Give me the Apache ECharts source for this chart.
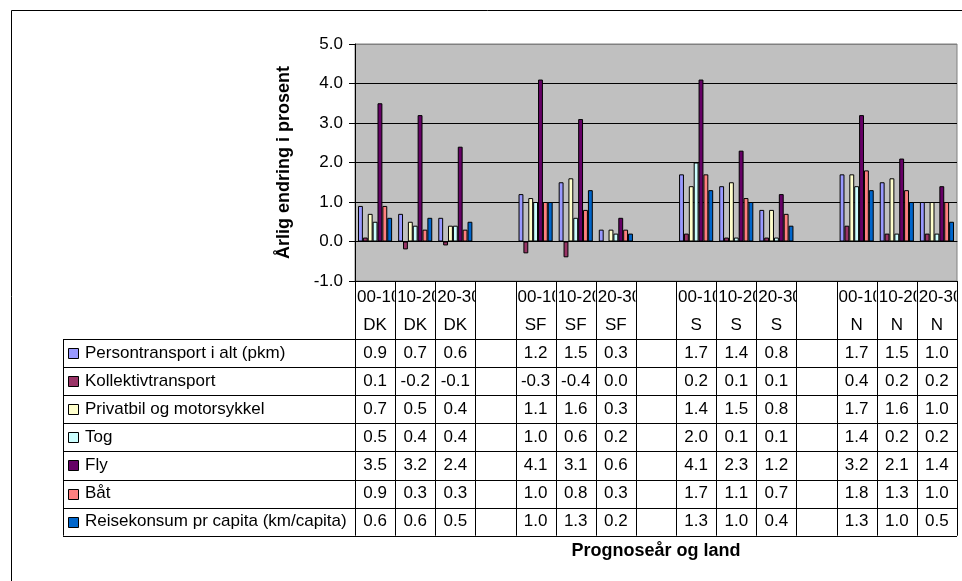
<!DOCTYPE html>
<html>
<head>
<meta charset="utf-8">
<title>Årlig endring i prosent</title>
<script src="https://cdn.jsdelivr.net/npm/echarts@6/dist/echarts.min.js"></script>
<style>
  html, body { margin: 0; padding: 0; background: #fff; }
  #chart { width: 962px; height: 581px; }
</style>
</head>
<body>
<div id="chart"></div>
<script>
// Forecast periods and countries (DK, SF, S, N)
const periods = ['00-10', '10-20', '20-30'];
const countries = ['DK', 'SF', 'S', 'N'];

// Annual change in percent, ordered DK(00-10,10-20,20-30), SF(...), S(...), N(...)
const persontransport = [0.9, 0.7, 0.6, 1.2, 1.5, 0.3, 1.7, 1.4, 0.8, 1.7, 1.5, 1.0];
const kollektivtransport = [0.1, -0.2, -0.1, -0.3, -0.4, 0.0, 0.2, 0.1, 0.1, 0.4, 0.2, 0.2];
const privatbil = [0.7, 0.5, 0.4, 1.1, 1.6, 0.3, 1.4, 1.5, 0.8, 1.7, 1.6, 1.0];
const tog = [0.5, 0.4, 0.4, 1.0, 0.6, 0.2, 2.0, 0.1, 0.1, 1.4, 0.2, 0.2];
const fly = [3.5, 3.2, 2.4, 4.1, 3.1, 0.6, 4.1, 2.3, 1.2, 3.2, 2.1, 1.4];
const baat = [0.9, 0.3, 0.3, 1.0, 0.8, 0.3, 1.7, 1.1, 0.7, 1.8, 1.3, 1.0];
const reisekonsum = [0.6, 0.6, 0.5, 1.0, 1.3, 0.2, 1.3, 1.0, 0.4, 1.3, 1.0, 0.5];

const seriesNames = [
  'Persontransport i alt (pkm)',
  'Kollektivtransport',
  'Privatbil og motorsykkel',
  'Tog',
  'Fly',
  'Båt',
  'Reisekonsum pr capita (km/capita)'
];
const seriesValues = [persontransport, kollektivtransport, privatbil, tog, fly, baat, reisekonsum];
const seriesColors = ['#9999FF', '#993366', '#FFFFCC', '#CCFFFF', '#660066', '#FF8080', '#0066CC'];

const yTicks = [-1, 0, 1, 2, 3, 4, 5];

const FONT = "'Liberation Sans', Arial, sans-serif";
const FS = 17;

// Build the category list: three periods per country, an empty column between countries
const cats = [];      // {period, country} or null for spacer
countries.forEach((c, ci) => {
  periods.forEach(p => cats.push({ period: p, country: c }));
  if (ci < countries.length - 1) cats.push(null);
});
const catNames = cats.map((c, i) => c ? c.period + ' ' + c.country : 'gap' + i);

// Spread a 12-value series over the 15 columns (spacers get no value)
function spread(values) {
  const out = [];
  let k = 0;
  cats.forEach(c => { out.push(c ? values[k++] : null); });
  return out;
}

const chart = echarts.init(document.getElementById('chart'), null, { renderer: 'canvas' });

const option = {
  animation: false,
  backgroundColor: '#ffffff',
  textStyle: { fontFamily: FONT },
  grid: {
    left: 355, top: 44, right: 5, height: 237,
    show: true, backgroundColor: '#C0C0C0', borderColor: '#808080', borderWidth: 1
  },
  xAxis: {
    type: 'category',
    data: catNames,
    axisLine: { show: true, lineStyle: { color: '#000', width: 1 } },
    axisTick: { show: false },
    axisLabel: { show: false },
    splitLine: { show: false }
  },
  yAxis: {
    type: 'value',
    min: yTicks[0], max: yTicks[yTicks.length - 1], interval: 1,
    name: 'Årlig endring i prosent',
    nameLocation: 'middle',
    nameGap: 62,
    nameRotate: 90,
    nameTextStyle: { fontFamily: FONT, fontSize: 18, fontWeight: 'bold', color: '#000' },
    axisLine: { show: true, lineStyle: { color: '#000', width: 1 } },
    axisTick: { show: true, inside: false, length: 6, lineStyle: { color: '#000' } },
    axisLabel: {
      color: '#000', fontFamily: FONT, fontSize: FS, margin: 12,
      formatter: v => v.toFixed(1)
    },
    splitLine: {
      show: true,
      lineStyle: { color: ['#000', '#000', '#000', '#000', '#000', '#000', '#808080'], width: 1 }
    }
  },
  series: seriesNames.map((name, i) => ({
    name,
    type: 'bar',
    data: spread(seriesValues[i]),
    barGap: '0%',
    barCategoryGap: '15%',
    itemStyle: { color: seriesColors[i], borderColor: '#000', borderWidth: 1 }
  }))
};

chart.setOption(option);

// ---- Data table below the plot, aligned to the category columns ----
function drawTable() {
  const xs = cats.map((_, i) => chart.convertToPixel({ xAxisIndex: 0 }, i));
  const bw = xs[1] - xs[0];
  const bounds = [];
  for (let i = 0; i <= cats.length; i++) bounds.push(xs[0] - bw / 2 + i * bw);
  const axisBottom = chart.convertToPixel({ yAxisIndex: 0 }, yTicks[0]);
  const tableTop = axisBottom + 58;
  const rowH = 28.1;
  const tableBottom = tableTop + rowH * seriesNames.length;
  const tableLeft = 63;
  const right = bounds[bounds.length - 1];

  const els = [];
  const line = (x1, y1, x2, y2) => els.push({
    type: 'line', silent: true,
    shape: { x1, y1, x2, y2 },
    style: { stroke: '#000', lineWidth: 1 }
  });

  // Column separators (header and body)
  bounds.forEach(bx => line(Math.round(bx) + 0.5, axisBottom, Math.round(bx) + 0.5, tableBottom));
  // Left edge of the legend column
  line(tableLeft + 0.5, tableTop, tableLeft + 0.5, tableBottom);
  // Row lines
  for (let r = 0; r <= seriesNames.length; r++) {
    const y = Math.round(tableTop + r * rowH) + 0.5;
    line(tableLeft, y, right, y);
  }

  // Country row of the header
  cats.forEach((c, i) => {
    if (!c) return;
    els.push({
      type: 'text', silent: true,
      style: {
        text: c.country, x: xs[i], y: axisBottom + 44,
        align: 'center', verticalAlign: 'middle',
        fill: '#000', font: FS + 'px ' + FONT
      }
    });
  });

  // Legend keys, series names and values
  seriesNames.forEach((name, r) => {
    const cy = tableTop + (r + 0.5) * rowH;
    els.push({
      type: 'rect', silent: true,
      shape: { x: 68.5, y: Math.round(cy - 5) + 0.5, width: 10, height: 10 },
      style: { fill: seriesColors[r], stroke: '#000', lineWidth: 1 }
    });
    els.push({
      type: 'text', silent: true,
      style: {
        text: name, x: 85, y: cy,
        align: 'left', verticalAlign: 'middle',
        fill: '#000', font: FS + 'px ' + FONT
      }
    });
    const vals = spread(seriesValues[r]);
    vals.forEach((v, i) => {
      if (v === null) return;
      els.push({
        type: 'text', silent: true,
        style: {
          text: v.toFixed(1), x: xs[i], y: cy,
          align: 'center', verticalAlign: 'middle',
          fill: '#000', font: FS + 'px ' + FONT
        }
      });
    });
  });

  // Category axis title
  els.push({
    type: 'text', silent: true,
    style: {
      text: 'Prognoseår og land', x: (bounds[0] + right) / 2, y: tableBottom + 15,
      align: 'center', verticalAlign: 'middle',
      fill: '#000', font: 'bold 18px ' + FONT
    }
  });

  // Chart area frame
  els.push({
    type: 'rect', silent: true,
    shape: { x: 11.5, y: 10.5, width: 1000, height: 1000 },
    style: { fill: null, stroke: '#000', lineWidth: 1 }
  });

  chart.setOption({ graphic: { elements: els } });

  // Period row of the header: text is clipped to its cell like a spreadsheet table
  const zr = chart.getZr();
  cats.forEach((c, i) => {
    if (!c) return;
    const t = new echarts.graphic.Text({
      silent: true,
      style: {
        text: c.period, x: bounds[i] + 2, y: axisBottom + 16,
        align: 'left', verticalAlign: 'middle',
        fill: '#000', font: FS + 'px ' + FONT
      },
      z: 10
    });
    t.setClipPath(new echarts.graphic.Rect({
      shape: { x: bounds[i] + 1, y: axisBottom + 1, width: bw - 1.5, height: 30 }
    }));
    zr.add(t);
  });
}

drawTable();
</script>
</body>
</html>
